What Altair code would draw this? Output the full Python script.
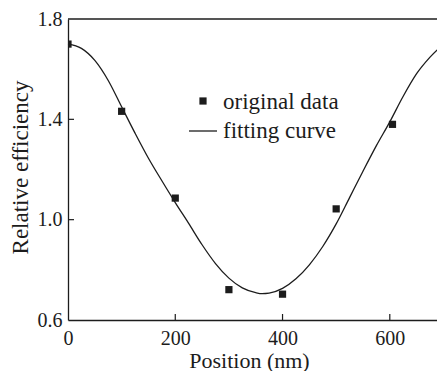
import altair as alt
import pandas as pd

# ---- data ----
positions = [0, 100, 200, 300, 400, 500, 605, 700]
efficiency = [1.700, 1.432, 1.086, 0.721, 0.703, 1.043, 1.380, 1.710]

curve_x = [0, 25, 50, 75, 100, 125, 150, 175, 200, 225, 250, 275, 300, 325, 350, 362,
           375, 400, 425, 450, 475, 500, 525, 550, 575, 600, 625, 650, 675, 700]
curve_y = [1.700, 1.683, 1.635, 1.555, 1.450, 1.345, 1.245, 1.155, 1.068, 0.985, 0.900,
           0.825, 0.767, 0.728, 0.709, 0.705, 0.707, 0.726, 0.764, 0.820, 0.893, 0.983,
           1.088, 1.193, 1.295, 1.390, 1.492, 1.582, 1.648, 1.700]

x_ticks = [0, 200, 400, 600]
y_ticks = [0.6, 1.0, 1.4, 1.8]
x_inner_ticks = [200, 400, 600]
y_inner_ticks = [1.0, 1.4]

legend_labels = ["original data", "fitting curve"]

FONT = "'Times New Roman', Times, 'Nimbus Roman', 'Noto Serif', 'DejaVu Serif', serif"
INK = "#1c1c1c"
W, H = 369, 301

pts = pd.DataFrame({"x": positions, "y": efficiency})
crv = pd.DataFrame({"x": curve_x, "y": curve_y})
xt = pd.DataFrame({"x": x_inner_ticks})
yt = pd.DataFrame({"y": y_inner_ticks})

xs = alt.Scale(domain=[0, 688], nice=False, zero=False)
ys = alt.Scale(domain=[0.6, 1.8], nice=False, zero=False)

xaxis = alt.Axis(values=x_ticks, tickSize=0, labelPadding=8, labelFontSize=20,
                 labelFont=FONT, labelColor=INK, domainColor=INK, domainWidth=1.3,
                 title="Position (nm)", titleFont=FONT, titleFontSize=22,
                 titleFontWeight="normal", titleColor=INK, titleX=181, titleY=40,
                 titleBaseline="middle", grid=False, labelFlush=False)
yaxis = alt.Axis(values=y_ticks, tickSize=0, labelPadding=6, labelFontSize=20,
                 labelFont=FONT, labelColor=INK, domainColor=INK, domainWidth=1.3,
                 format=".1f", labelFlush=False,
                 title="Relative efficiency", titleFont=FONT, titleFontSize=23,
                 titleFontWeight="normal", titleColor=INK, titleX=-48, titleY=148,
                 titleBaseline="middle", grid=False)

line = alt.Chart(crv).mark_line(color=INK, strokeWidth=1.3, interpolate="monotone").encode(
    x=alt.X("x:Q", scale=xs, axis=xaxis),
    y=alt.Y("y:Q", scale=ys, axis=yaxis),
)

points = alt.Chart(pts).mark_square(color=INK, size=52, opacity=1, clip=True).encode(
    x=alt.X("x:Q", scale=xs),
    y=alt.Y("y:Q", scale=ys),
)

xtick_marks = alt.Chart(xt).mark_rule(color=INK, strokeWidth=1.2).encode(
    x=alt.X("x:Q", scale=xs),
    y=alt.value(H),
    y2=alt.value(H - 6),
)
ytick_marks = alt.Chart(yt).mark_rule(color=INK, strokeWidth=1.2).encode(
    y=alt.Y("y:Q", scale=ys),
    x=alt.value(0),
    x2=alt.value(6),
)
top_border = alt.Chart(pd.DataFrame({"k": ["top"]})).mark_rule(
    color=INK, strokeWidth=1.3).encode(x=alt.value(0), x2=alt.value(W), y=alt.value(0))

leg_sq = alt.Chart(pd.DataFrame({"k": [legend_labels[0]]})).mark_square(
    color=INK, size=52, opacity=1).encode(x=alt.value(135), y=alt.value(82))
leg_ln = alt.Chart(pd.DataFrame({"k": [legend_labels[1]]})).mark_rule(
    color=INK, strokeWidth=1.3).encode(x=alt.value(121), x2=alt.value(149), y=alt.value(112))
leg_t1 = alt.Chart(pd.DataFrame({"k": [legend_labels[0]]})).mark_text(
    font=FONT, fontSize=23, color=INK, align="left", baseline="alphabetic").encode(
    x=alt.value(155), y=alt.value(90), text="k:N")
leg_t2 = alt.Chart(pd.DataFrame({"k": [legend_labels[1]]})).mark_text(
    font=FONT, fontSize=23, color=INK, align="left", baseline="alphabetic").encode(
    x=alt.value(155), y=alt.value(119), text="k:N")

chart = alt.layer(line, points, xtick_marks, ytick_marks, top_border,
                  leg_sq, leg_ln, leg_t1, leg_t2).properties(
    width=W, height=H,
    autosize=alt.AutoSizeParams(type="none"),
    padding={"left": 60, "top": 11, "right": 0, "bottom": 51},
    background="white",
).configure_view(strokeWidth=0)

chart.save("out.html", embed_options={"renderer": "svg", "actions": False})
